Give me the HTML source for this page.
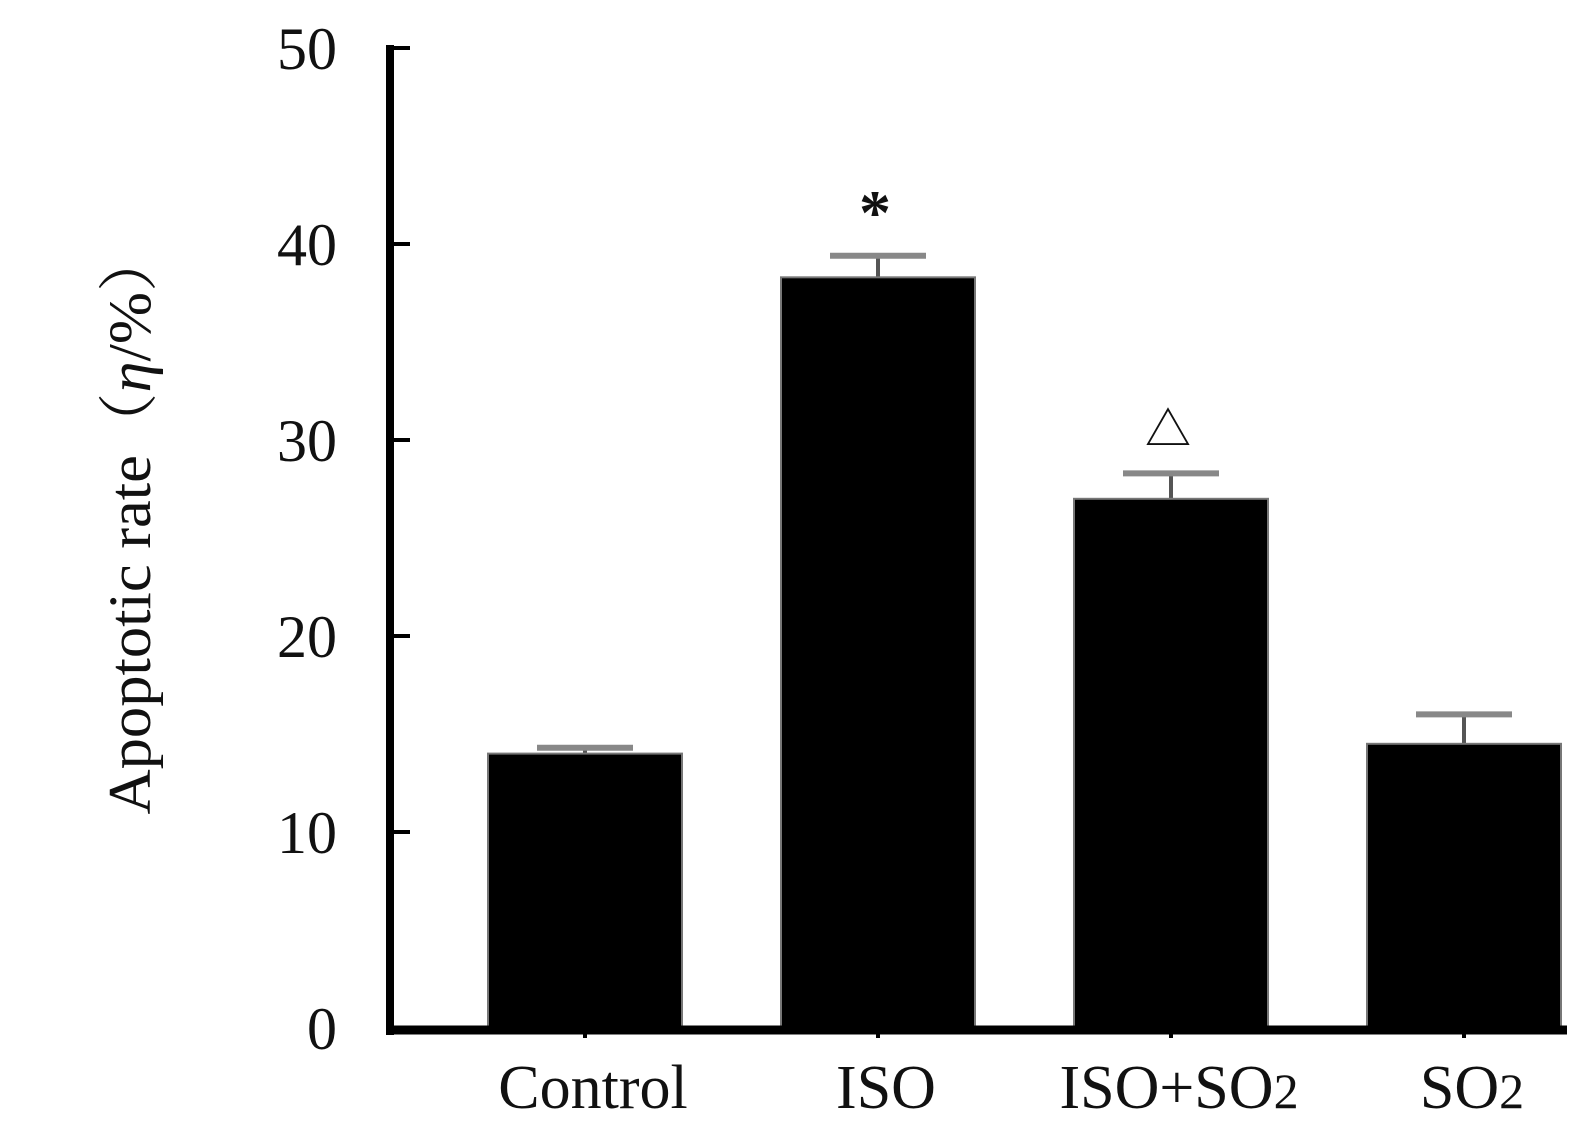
<!DOCTYPE html>
<html><head><meta charset="utf-8"><style>
html,body{margin:0;padding:0;background:#fff;}
svg{display:block;}
text{font-family:"Liberation Serif","Noto Serif CJK SC",serif;fill:#111;}
</style></head><body>
<svg id="chart" width="1587" height="1147" viewBox="0 0 1587 1147" xmlns="http://www.w3.org/2000/svg">
<g id="plot"></g>
<text transform="translate(150,522) rotate(-90)" text-anchor="middle" font-size="60" textLength="585" lengthAdjust="spacingAndGlyphs">Apoptotic rate（<tspan font-style="italic">η</tspan>/%）</text>
</svg>
<script>
const categories = ["Control", "ISO", "ISO+SO2", "SO2"];
const means = [14.0, 38.3, 27.0, 14.5];
const errors = [0.3, 1.1, 1.3, 1.5];
const marks = ["", "*", "△", ""];
const yTicks = [0, 10, 20, 30, 40, 50];

const NS = "http://www.w3.org/2000/svg";
const g = document.getElementById("plot");
const y0 = 1028, yPer = 19.6, yMax = 50;
function yScale(v){ return y0 - v * yPer; }
const xStart = 585, xStep = 293, barW = 194, capHalf = 48;
function xScale(i){ return xStart + i * xStep; }
function el(tag, attrs){ const e = document.createElementNS(NS, tag); for (const k in attrs) e.setAttribute(k, attrs[k]); g.appendChild(e); return e; }

categories.forEach((c, i) => {
  const cx = xScale(i);
  const top = yScale(means[i]);
  const capY = yScale(means[i] + errors[i]);
  const eb = el("line", {x1: cx, x2: cx, y1: top, y2: capY, stroke: "#555", "stroke-width": 4});
  
  
  const cap = el("line", {x1: cx - capHalf, x2: cx + capHalf, y1: capY, y2: capY, stroke: "#888", "stroke-width": 6});
  
  
  const r = el("rect", {x: cx - barW / 2, y: top, width: barW, height: y0 - top, fill: "#000", stroke: "#777", "stroke-width": 2});
  
  
  if (marks[i]) {
    const m = el("text", {x: cx - 3, y: capY - (marks[i] === "*" ? 22 : 28), "text-anchor": "middle", "font-size": marks[i] === "*" ? 64 : 46, "font-weight": marks[i] === "*" ? "bold" : "normal"});
    m.textContent = marks[i];
    
    
  }
  const tk = el("line", {x1: cx, x2: cx, y1: y0, y2: y0 + 10, stroke: "#000", "stroke-width": 4});
  
  
  const lab = el("text", {x: cx + 8, y: 1108, "text-anchor": "middle", "font-size": 62});
  if (c.endsWith("SO2")) {
    lab.textContent = c.slice(0, -1);
    const s = document.createElementNS(NS, "tspan");
    s.setAttribute("font-size", "50");
    s.textContent = "2";
    lab.appendChild(s);
  } else {
    lab.textContent = c;
  }
  
  
});

const yAxis = el("line", {x1: 390, x2: 390, y1: yScale(yMax) - 3, y2: y0 + 7, stroke: "#000", "stroke-width": 8});


const xAxis = el("line", {x1: 386, x2: xScale(3) + barW / 2 + 6, y1: y0 + 2, y2: y0 + 2, stroke: "#000", "stroke-width": 9});



yTicks.forEach(t => {
  const y = yScale(t);
  const tl = el("line", {x1: 390, x2: 410, y1: y, y2: y, stroke: "#000", "stroke-width": 4});
  
  
  const tx = el("text", {x: 337, y: y + 21, "text-anchor": "end", "font-size": 60});
  tx.textContent = t;
  
  
});
</script>
</body></html>
